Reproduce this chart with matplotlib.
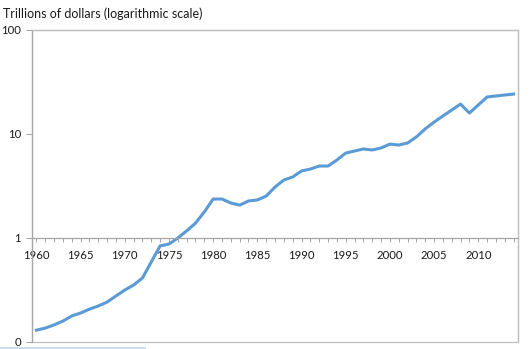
import matplotlib
matplotlib.use("Agg")
import matplotlib.pyplot as plt
from matplotlib.ticker import FixedLocator, MultipleLocator, FixedFormatter
from matplotlib.patches import Rectangle

years = list(range(1960, 2015))
values = [0.130, 0.136, 0.146, 0.159, 0.178, 0.190, 0.207, 0.222, 0.242, 0.277,
          0.316, 0.353, 0.413, 0.588, 0.840, 0.875, 1.00, 1.17, 1.39, 1.78,
          2.37, 2.37, 2.17, 2.07, 2.27, 2.32, 2.53, 3.09, 3.61, 3.86,
          4.41, 4.60, 4.92, 4.92, 5.62, 6.55, 6.86, 7.18, 7.02, 7.34,
          8.00, 7.83, 8.19, 9.37, 11.2, 13.0, 14.9, 17.0, 19.4, 15.9,
          19.0, 22.7, 23.2, 23.7, 24.2]
y_ticks = [0.1, 1, 10, 100]
y_tick_labels = ["0", "1", "10", "100"]
x_label_years = [1960, 1965, 1970, 1975, 1980, 1985, 1990, 1995, 2000, 2005, 2010]
title = "Trillions of dollars (logarithmic scale)"

plt.rcParams['font.family'] = ['Lato', 'DejaVu Sans']
GRAY = '#A6A6A6'
TEXT = '#1a1a1a'

fig = plt.figure(figsize=(5.30, 3.49), dpi=100)
ax = fig.add_axes([32/530, 7/349, (518-32)/530, (342-30)/349])

ax.plot(years, values, color='#5B9BD5', lw=2.2, solid_joinstyle='round')
ax.set_yscale('log')
ax.set_ylim(0.1, 100)
ax.set_xlim(1959.5, 2014.5)

ax.yaxis.set_major_locator(FixedLocator(y_ticks))
ax.yaxis.set_major_formatter(FixedFormatter(y_tick_labels))
ax.yaxis.set_minor_locator(FixedLocator([]))
ax.tick_params(axis='y', which='major', length=4, width=0.8, color=GRAY,
               labelsize=8.2, labelcolor=TEXT, pad=4)

ax.spines['bottom'].set_position(('data', 1))
ax.xaxis.set_major_locator(FixedLocator(x_label_years))
ax.xaxis.set_minor_locator(MultipleLocator(1))
ax.tick_params(axis='x', which='both', length=3, width=0.7, color=GRAY,
               direction='out', labelsize=8.2, labelcolor=TEXT, pad=5.5)

for s in ['left', 'bottom']:
    ax.spines[s].set_color(GRAY)
    ax.spines[s].set_linewidth(0.9)
for s in ['top', 'right']:
    ax.spines[s].set_color('#BFBFBF')
    ax.spines[s].set_linewidth(0.9)
ax.add_patch(Rectangle((0, 0), 1, 1, transform=ax.transAxes, fill=False,
                       edgecolor='#BFBFBF', lw=0.9, clip_on=False, zorder=0))

t = fig.text(3/530, 1 - 14/349, title, fontsize=9.5, color=TEXT, ha='left', va='center')
fig.canvas.draw()
w = t.get_window_extent().width
t.set_fontsize(9.5 * 200.0 / w)

fig.add_artist(plt.Line2D([0, 145/530], [1.5/349, 1.5/349], color='#BDD7EE', lw=1.2,
                          transform=fig.transFigure))

fig.savefig('out.png', dpi=100)
